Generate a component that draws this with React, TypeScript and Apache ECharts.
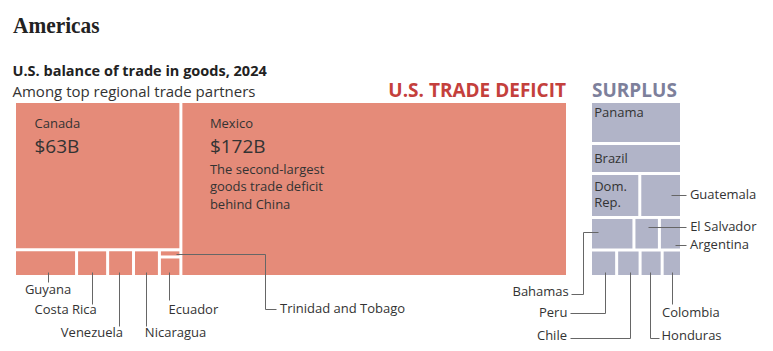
import React, { useEffect, useRef } from 'react';
import * as echarts from 'echarts';

// ---- Data (US$ billions) ----
const deficitNames = ['Mexico', 'Canada', 'Guyana', 'Costa Rica', 'Venezuela', 'Nicaragua', 'Ecuador', 'Trinidad and Tobago'];
const deficitValues = [172, 63, 4.0, 1.9, 1.55, 1.55, 1.0, 0.25];
const surplusNames = ['Panama', 'Brazil', 'Dom. Rep.', 'Guatemala', 'Bahamas', 'El Salvador', 'Argentina', 'Peru', 'Chile', 'Honduras', 'Colombia'];
const surplusValues = [9.6, 6.7, 5.5, 4.6, 3.6, 2.0, 1.7, 1.7, 1.5, 1.4, 1.2];
const mexicoNote = ['The second-largest', 'goods trade deficit', 'behind China'];

const TITLE = 'Americas';
const SUBTITLE = 'U.S. balance of trade in goods, 2024';
const SUBTITLE2 = 'Among top regional trade partners';
const DEFICIT_LABEL = 'U.S. TRADE DEFICIT';
const SURPLUS_LABEL = 'SURPLUS';

// ---- Layout structure (slice directions) ----
type Node = string | { dir: 'h' | 'v'; children: Node[] };
const deficitTree: Node = {
  dir: 'h',
  children: [
    {
      dir: 'v',
      children: [
        'Canada',
        {
          dir: 'h',
          children: ['Guyana', 'Costa Rica', 'Venezuela', 'Nicaragua', { dir: 'v', children: ['Trinidad and Tobago', 'Ecuador'] }],
        },
      ],
    },
    'Mexico',
  ],
};
const surplusTree: Node = {
  dir: 'v',
  children: [
    'Panama',
    'Brazil',
    { dir: 'h', children: ['Dom. Rep.', 'Guatemala'] },
    { dir: 'h', children: ['Bahamas', 'El Salvador', 'Argentina'] },
    { dir: 'h', children: ['Peru', 'Chile', 'Honduras', 'Colombia'] },
  ],
};

// ---- Styles ----
const GAP = 3;
const DEFICIT_COLOR = '#e58b79';
const SURPLUS_COLOR = '#b1b4c8';
const TEXT_COLOR = '#333333';
const LEADER_COLOR = '#666666';
const FONT = "'Open Sans', 'Noto Sans', sans-serif";

type Line = { text: string; dy: number; size: number };
const innerLabels: Record<string, { dx: number; lines: (v: number) => Line[] }> = {
  Canada: {
    dx: 18.5,
    lines: (v) => [
      { text: 'Canada', dy: 19.5, size: 13 },
      { text: `$${Math.round(v)}B`, dy: 43.4, size: 19 },
    ],
  },
  Mexico: {
    dx: 27.5,
    lines: (v) => [
      { text: 'Mexico', dy: 19.5, size: 13 },
      { text: `$${Math.round(v)}B`, dy: 43.4, size: 19 },
      ...mexicoNote.map((t, i) => ({ text: t, dy: 66 + i * 17.3, size: 13 })),
    ],
  },
  Panama: { dx: 2.2, lines: () => [{ text: 'Panama', dy: 8.9, size: 13 }] },
  Brazil: { dx: 2.2, lines: () => [{ text: 'Brazil', dy: 13, size: 13 }] },
  'Dom. Rep.': {
    dx: 2.2,
    lines: () => [
      { text: 'Dom.', dy: 10.7, size: 13 },
      { text: 'Rep.', dy: 27.4, size: 13 },
    ],
  },
};

type Leader = { fx: number; fy: number; path: [number, number][]; lx: number; ly: number; align: 'left' | 'right' | 'center' };
const leaders: Record<string, Leader> = {
  Guyana: { fx: 0.543, fy: 0.864, path: [[0, 10]], lx: 0, ly: 16.8, align: 'center' },
  'Costa Rica': { fx: 0.51, fy: 0.864, path: [[0, 32.3]], lx: 4.4, ly: 37.3, align: 'right' },
  Venezuela: { fx: 0.42, fy: 0.864, path: [[0, 54.3]], lx: 4.3, ly: 60, align: 'right' },
  Nicaragua: { fx: 0.5, fy: 0.864, path: [[0, 54.3]], lx: -1.6, ly: 60, align: 'left' },
  Ecuador: { fx: 0.465, fy: 0.8, path: [[0, 28.3]], lx: -1, ly: 37.3, align: 'left' },
  'Trinidad and Tobago': { fx: 0.8, fy: 0.57, path: [[89.3, 0], [89.3, 55], [100, 55]], lx: 104.3, ly: 54, align: 'left' },
  Guatemala: { fx: 0.757, fy: 0.477, path: [[15.3, 0]], lx: 19.3, ly: -0.4, align: 'left' },
  'El Salvador': { fx: 0.566, fy: 0.27, path: [[38, 0]], lx: 42, ly: -0.7, align: 'left' },
  Argentina: { fx: 0.74, fy: 0.89, path: [[11, 0]], lx: 15, ly: -1.7, align: 'left' },
  Bahamas: { fx: 0.15, fy: 0.45, path: [[-15.3, 0], [-15.3, 61.7], [-27.3, 61.7]], lx: -29.3, ly: 58.3, align: 'right' },
  Peru: { fx: 0.565, fy: 0.89, path: [[0, 41], [-34.7, 41]], lx: -37.7, ly: 40, align: 'right' },
  Chile: { fx: 0.565, fy: 0.89, path: [[0, 65.6], [-59.7, 65.6]], lx: -62.7, ly: 62.6, align: 'right' },
  Honduras: { fx: 0.453, fy: 0.89, path: [[0, 65.6], [9, 65.6]], lx: 11.3, ly: 62.6, align: 'left' },
  Colombia: { fx: 0.54, fy: 0.89, path: [[0, 31.6]], lx: -10.4, ly: 40, align: 'left' },
};

type Rect = { x: number; y: number; width: number; height: number };

function total(node: Node, valueOf: (n: string) => number): number {
  if (typeof node === 'string') return valueOf(node);
  return node.children.reduce((s, c) => s + total(c, valueOf), 0);
}

function layoutTree(node: Node, x: number, y: number, w: number, h: number, valueOf: (n: string) => number, out: Record<string, Rect>) {
  if (typeof node === 'string') {
    out[node] = { x, y, width: w, height: h };
    return;
  }
  const sums = node.children.map((c) => total(c, valueOf));
  const sum = sums.reduce((a, b) => a + b, 0);
  const n = node.children.length;
  if (node.dir === 'h') {
    const avail = w - GAP * (n - 1);
    let cx = x;
    node.children.forEach((c, i) => {
      const cw = (avail * sums[i]) / sum;
      layoutTree(c, cx, y, cw, h, valueOf, out);
      cx += cw + GAP;
    });
  } else {
    const avail = h - GAP * (n - 1);
    let cy = y;
    node.children.forEach((c, i) => {
      const ch = (avail * sums[i]) / sum;
      layoutTree(c, x, cy, w, ch, valueOf, out);
      cy += ch + GAP;
    });
  }
}

const snap = (v: number) => Math.round(v) + 0.5;

function textEl(text: string, x: number, y: number, size: number, align: string, color = TEXT_COLOR, weight: string = 'normal') {
  return {
    type: 'text',
    z2: 60,
    style: {
      text,
      x,
      y,
      fill: color,
      fontSize: size,
      fontFamily: FONT,
      fontWeight: weight,
      align,
      verticalAlign: 'middle',
      textAlign: align,
      textVerticalAlign: 'middle',
    },
  };
}

function makeRender(names: string[], values: number[], tree: Node, color: string) {
  const valueOf = (n: string) => values[names.indexOf(n)];
  return (params: any, api: any) => {
    const p0 = api.coord([0, 1]);
    const p1 = api.coord([1, 0]);
    const rects: Record<string, Rect> = {};
    layoutTree(tree, p0[0], p0[1], p1[0] - p0[0], p1[1] - p0[1], valueOf, rects);
    const name = names[params.dataIndex];
    const v = values[params.dataIndex];
    const r = rects[name];
    const children: any[] = [{ type: 'rect', z2: 1, shape: { ...r }, style: { fill: color } }];
    const inner = innerLabels[name];
    if (inner) {
      inner.lines(v).forEach((l) => children.push(textEl(l.text, r.x + inner.dx, r.y + l.dy, l.size, 'left')));
    }
    const ld = leaders[name];
    if (ld) {
      const sx = r.x + ld.fx * r.width;
      const sy = r.y + ld.fy * r.height;
      const pts = [[snap(sx), snap(sy)], ...ld.path.map(([dx, dy]) => [snap(sx + dx), snap(sy + dy)])];
      children.push({ type: 'polyline', z2: 100, shape: { points: pts }, style: { stroke: LEADER_COLOR, lineWidth: 1, fill: null } });
      children.push(textEl(name, sx + ld.lx, sy + ld.ly, 13, ld.align));
    }
    return { type: 'group', children };
  };
}

function buildOption() {
  return {
    animation: false,
    backgroundColor: '#ffffff',
    grid: [
      { left: 16, top: 103, width: 550, height: 172 },
      { left: 592, top: 103, width: 88, height: 172 },
    ],
    xAxis: [
      { gridIndex: 0, type: 'value', min: 0, max: 1, show: false },
      { gridIndex: 1, type: 'value', min: 0, max: 1, show: false },
    ],
    yAxis: [
      { gridIndex: 0, type: 'value', min: 0, max: 1, show: false },
      { gridIndex: 1, type: 'value', min: 0, max: 1, show: false },
    ],
    graphic: [
      {
        type: 'text',
        x: 13,
        y: 25,
        scaleX: 0.89,
        style: { text: TITLE, x: 0, y: 0, fill: '#222222', fontSize: 24, fontWeight: 'bold', fontFamily: "'Liberation Serif', serif", textVerticalAlign: 'middle', verticalAlign: 'middle' },
      },
      {
        type: 'text',
        x: 12.5,
        y: 70.5,
        style: { text: SUBTITLE, x: 0, y: 0, fill: '#222222', fontSize: 14.5, fontWeight: 'bold', fontFamily: FONT, textVerticalAlign: 'middle', verticalAlign: 'middle' },
      },
      {
        type: 'text',
        x: 12.5,
        y: 90.5,
        style: { text: SUBTITLE2, x: 0, y: 0, fill: '#333333', fontSize: 15, fontFamily: FONT, textVerticalAlign: 'middle', verticalAlign: 'middle' },
      },
      {
        type: 'text',
        x: 566,
        y: 90,
        style: { text: DEFICIT_LABEL, x: 0, y: 0, fill: '#c4403c', fontSize: 19, fontWeight: 'bold', fontFamily: FONT, textAlign: 'right', align: 'right', textVerticalAlign: 'middle', verticalAlign: 'middle' },
      },
      {
        type: 'text',
        x: 592,
        y: 90,
        style: { text: SURPLUS_LABEL, x: 0, y: 0, fill: '#7d809b', fontSize: 19, fontWeight: 'bold', fontFamily: FONT, textVerticalAlign: 'middle', verticalAlign: 'middle' },
      },
    ],
    series: [
      {
        type: 'custom',
        name: 'Deficit',
        xAxisIndex: 0,
        yAxisIndex: 0,
        clip: false,
        silent: true,
        renderItem: makeRender(deficitNames, deficitValues, deficitTree, DEFICIT_COLOR),
        data: deficitNames.map((n, i) => ({ name: n, value: [0, 0, deficitValues[i]] })),
      },
      {
        type: 'custom',
        name: 'Surplus',
        xAxisIndex: 1,
        yAxisIndex: 1,
        clip: false,
        silent: true,
        renderItem: makeRender(surplusNames, surplusValues, surplusTree, SURPLUS_COLOR),
        data: surplusNames.map((n, i) => ({ name: n, value: [0, 0, surplusValues[i]] })),
      },
    ],
  };
}

export default function App() {
  const ref = useRef<HTMLDivElement>(null);
  useEffect(() => {
    if (!ref.current) return;
    const chart = echarts.init(ref.current, null, { renderer: 'svg' });
    chart.setOption(buildOption() as any);
    return () => chart.dispose();
  }, []);
  return <div ref={ref} style={{ position: 'absolute', left: 0, top: 0, width: 773, height: 351, background: '#fff' }} />;
}
